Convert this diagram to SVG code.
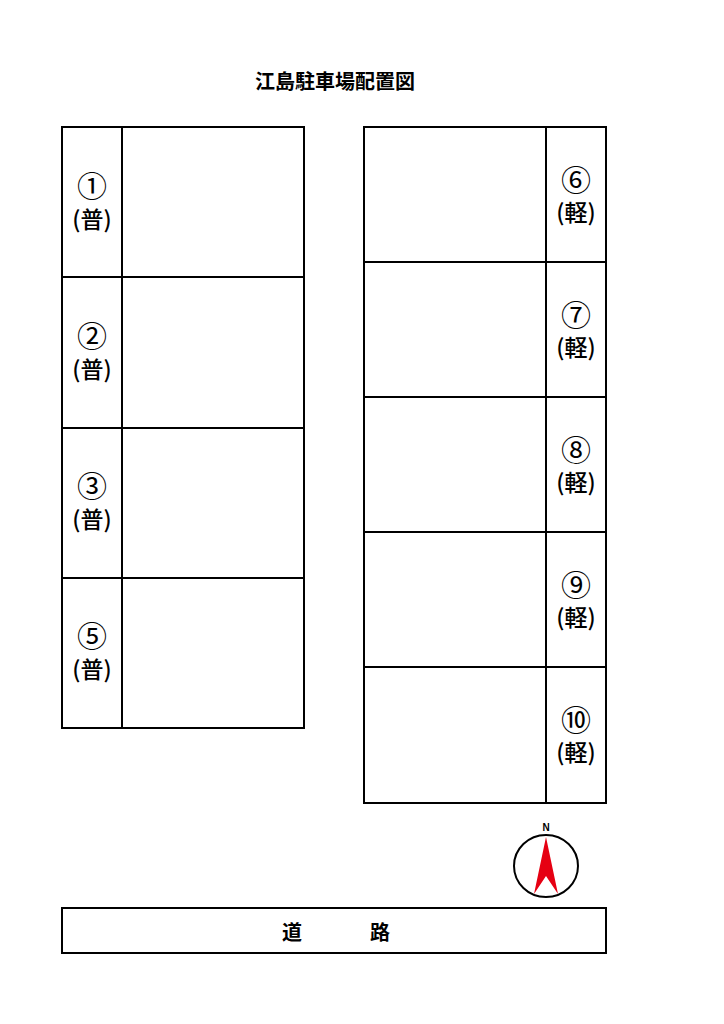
<svg xmlns="http://www.w3.org/2000/svg" width="724" height="1024" viewBox="0 0 724 1024">
<style>
.b{fill:none;stroke:#000;stroke-width:2}
.l{font-family:"Noto Sans CJK JP","Liberation Sans",sans-serif;font-size:23px;font-weight:500;text-anchor:middle;fill:#000}
.n{font-family:"Liberation Sans","Noto Sans CJK JP",sans-serif;font-size:30px;text-anchor:middle;fill:#000}
.t{font-family:"Liberation Serif","Noto Sans CJK JP",serif;font-weight:bold;font-size:20px;text-anchor:middle;fill:#000}
</style>
<rect width="724" height="1024" fill="#fff"/>
<text class="t" x="335" y="89">江島駐車場配置図</text>
<g id="left">
<rect class="b" x="62" y="127" width="242" height="601"/>
<line class="b" x1="122" y1="127" x2="122" y2="728"/>
<line class="b" x1="62" y1="277" x2="304" y2="277"/>
<line class="b" x1="62" y1="428" x2="304" y2="428"/>
<line class="b" x1="62" y1="578" x2="304" y2="578"/>
</g>
<g id="s1"><text class="n" x="92" y="197">①</text><text class="l" x="92" y="228">(普)</text></g>
<g id="s2"><text class="n" x="92" y="347">②</text><text class="l" x="92" y="378">(普)</text></g>
<g id="s3"><text class="n" x="92" y="497">③</text><text class="l" x="92" y="528">(普)</text></g>
<g id="s5"><text class="n" x="92" y="647">⑤</text><text class="l" x="92" y="678">(普)</text></g>
<g id="right">
<rect class="b" x="364" y="127" width="242" height="676"/>
<line class="b" x1="546" y1="127" x2="546" y2="803"/>
<line class="b" x1="364" y1="262" x2="606" y2="262"/>
<line class="b" x1="364" y1="397" x2="606" y2="397"/>
<line class="b" x1="364" y1="532" x2="606" y2="532"/>
<line class="b" x1="364" y1="667" x2="606" y2="667"/>
</g>
<g id="s6"><text class="n" x="576" y="191">⑥</text><text class="l" x="576" y="221">(軽)</text></g>
<g id="s7"><text class="n" x="576" y="326">⑦</text><text class="l" x="576" y="356">(軽)</text></g>
<g id="s8"><text class="n" x="576" y="461">⑧</text><text class="l" x="576" y="491">(軽)</text></g>
<g id="s9"><text class="n" x="576" y="596">⑨</text><text class="l" x="576" y="626">(軽)</text></g>
<g id="s10"><text class="n" x="576" y="731">⑩</text><text class="l" x="576" y="761">(軽)</text></g>
<g id="compass">
<text x="546" y="831" font-family="Liberation Sans,sans-serif" font-weight="bold" font-size="10" text-anchor="middle">N</text>
<ellipse class="b" cx="546" cy="866" rx="32" ry="31"/>
<polygon points="546,837 534,894 546,876 558,894" fill="#e60012"/>
</g>
<g id="road">
<rect class="b" x="62" y="908" width="544" height="45"/>
<text class="t" x="292" y="940">道</text><text class="t" x="380" y="940">路</text>
</g>
</svg>
